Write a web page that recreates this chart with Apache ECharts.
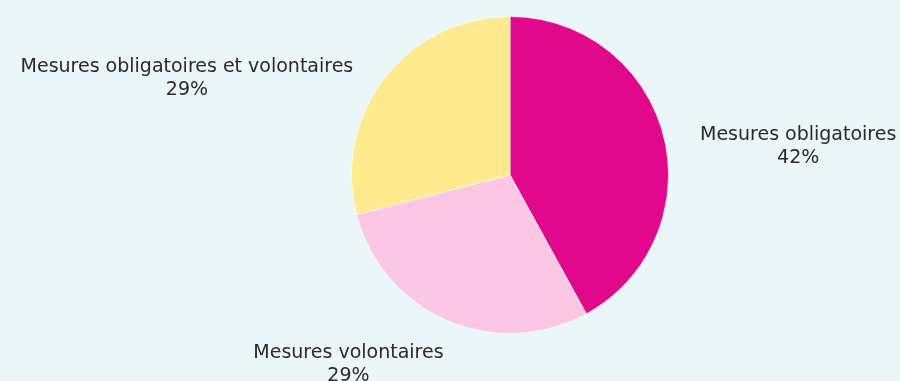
<!DOCTYPE html>
<html>
<head>
<meta charset="utf-8">
<script src="https://cdn.jsdelivr.net/npm/echarts@6/dist/echarts.min.js"></script>
<style>
  html, body { margin: 0; padding: 0; background: #ebf6fb; }
  #chart { width: 900px; height: 381px; }
</style>
</head>
<body>
<div id="chart"></div>
<script>
// Répartition des mesures (en %)
const categories = ['Mesures obligatoires', 'Mesures volontaires', 'Mesures obligatoires et volontaires'];
const shares = [42, 29, 29];
const colors = ['#e0078a', '#fac8e3', '#ffeb8f'];

// Pie geometry (pixels)
const CX = 510, CY = 175, R = 158.5;
// Extra shift applied to each outside label after the side placement
const labelNudge = [[25, 12], [8, 25], [-20, 9]];

const total = shares.reduce((a, b) => a + b, 0);

function midDirection(i) {
  let before = 0;
  for (let k = 0; k < i; k++) before += shares[k];
  const frac = (before + shares[i] / 2) / total;
  const a = frac * 2 * Math.PI; // clockwise from top
  return [Math.sin(a), -Math.cos(a)];
}

const chart = echarts.init(document.getElementById('chart'), null, { renderer: 'canvas' });

chart.setOption({
  backgroundColor: '#ebf6fb',
  animation: false,
  series: [{
    type: 'pie',
    center: [CX, CY],
    radius: R,
    startAngle: 90,
    clockwise: true,
    avoidLabelOverlap: false,
    data: categories.map((name, i) => ({
      name,
      value: shares[i],
      itemStyle: { color: colors[i] }
    })),
    itemStyle: { borderColor: '#ffffff', borderWidth: 0.6 },
    label: {
      show: true,
      position: 'outside',
      formatter: '{b}\n{c}%',
      fontFamily: 'DejaVu Sans',
      fontSize: 19,
      lineHeight: 23,
      color: '#2a2a2a'
    },
    labelLine: { show: false },
    emphasis: { disabled: true },
    labelLayout: function (params) {
      const i = params.dataIndex;
      const [ux, uy] = midDirection(i);
      const ex = CX + R * ux, ey = CY + R * uy;
      const w = params.labelRect.width, h = params.labelRect.height;
      let dx = w / 2, dy = h / 2;
      if (ux < 0) dx = -dx;
      if (uy < 0) dy = -dy;
      const ox = dx + Math.abs(dy) * (dx > 0 ? 1 : -1) / 2;
      const oy = dy / (1 + (ux * ux) / (uy * uy));
      return {
        x: ex + ox + labelNudge[i][0],
        y: ey + oy + labelNudge[i][1],
        align: 'center',
        verticalAlign: 'middle'
      };
    }
  }]
});
</script>
</body>
</html>
